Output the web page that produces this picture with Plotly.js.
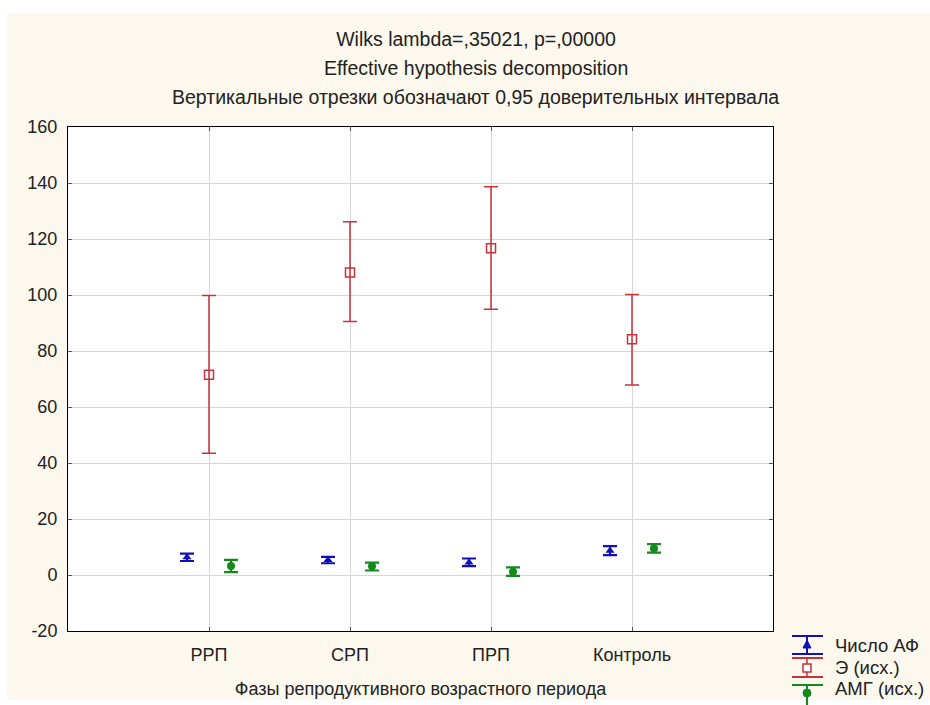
<!DOCTYPE html>
<html>
<head>
<meta charset="utf-8">
<script src="https://cdn.plot.ly/plotly-3.0.1.min.js"></script>
<style>html,body{margin:0;padding:0;background:#fff;}#chart{width:930px;height:705px;}</style>
</head>
<body>
<div id="chart"></div>
<script>
// ---- data ----
const categories = ['РРП', 'СРП', 'ПРП', 'Контроль'];
const seriesNames = ['Число АФ', 'Э (исх.)', 'АМГ (исх.)'];

const afMean  = [6.3, 5.4, 4.5, 8.7];
const afUpper = [7.6, 6.5, 5.9, 10.3];
const afLower = [5.0, 4.2, 3.2, 7.1];

const eMean  = [71.5, 108.0, 116.7, 84.2];
const eUpper = [99.8, 126.2, 138.7, 100.2];
const eLower = [43.5, 90.5, 94.9, 67.9];

const amgMean  = [3.2, 3.1, 1.2, 9.5];
const amgUpper = [5.4, 4.4, 2.7, 11.0];
const amgLower = [1.0, 1.6, -0.3, 8.0];

const yTickVals = [-20, 0, 20, 40, 60, 80, 100, 120, 140, 160];
const yTickText = ['-20', '0', '20', '40', '60', '80', '100', '120', '140', '160'];

const titleLines = [
  'Wilks lambda=,35021, p=,00000',
  'Effective hypothesis decomposition',
  'Вертикальные отрезки обозначают 0,95 доверительных интервала'
];
const xTitle = 'Фазы репродуктивного возрастного периода';

// ---- layout helpers ----
const W = 930, H = 705;
const L = 68, R = 773, T = 127, B = 631;
const FONT = 'Liberation Sans, Arial, sans-serif';
const TFS = 19.5;
const px = x => (x - L) / (R - L);
const py = y => (B - y) / (B - T);

const plus = (u, m) => u.map((v, i) => v - m[i]);
const minus = (m, l) => m.map((v, i) => v - l[i]);

const colors = ['#1010B8', '#C8323A', '#138A1B'];

function trace(name, mean, upper, lower, color, marker, thick) {
  return {
    type: 'scatter', mode: 'markers', name: name,
    x: categories, y: mean,
    marker: marker,
    error_y: { type: 'data', symmetric: false, array: plus(upper, mean), arrayminus: minus(mean, lower),
               color: color, thickness: thick, width: 7 },
    showlegend: false, hoverinfo: 'x+y+name'
  };
}

const data = [
  trace(seriesNames[0], afMean, afUpper, afLower, colors[0],
        { symbol: 'triangle-up', size: 8, color: colors[0], line: { width: 0 } }, 2.2),
  trace(seriesNames[1], eMean, eUpper, eLower, colors[1],
        { symbol: 'square-open', size: 9, color: colors[1], line: { width: 1.5, color: colors[1] } }, 1.5),
  trace(seriesNames[2], amgMean, amgUpper, amgLower, colors[2],
        { symbol: 'circle', size: 8, color: colors[2], line: { width: 0 } }, 2.2)
];

// ---- shapes: background, plot area, custom legend ----
const shapes = [
  { type: 'rect', xref: 'paper', yref: 'paper', layer: 'below',
    x0: px(7), x1: px(935), y0: py(700), y1: py(13), fillcolor: '#FCF8EE', line: { width: 0 } },
  { type: 'rect', xref: 'paper', yref: 'paper', layer: 'below',
    x0: 0, x1: 1, y0: 0, y1: 1, fillcolor: '#FFFFFF', line: { width: 0 } }
];
const annotations = [];

const legendRows = [
  { top: 636, bottom: 654, cy: 645, my: 645 },
  { top: 658, bottom: 677, cy: 667, my: 668 },
  { top: 685, bottom: 709, cy: 688, my: 693 }
];
const gx0 = 792, gx1 = 823, gxc = 807;
legendRows.forEach((r, i) => {
  const c = colors[i];
  shapes.push({ type: 'line', xref: 'paper', yref: 'paper', x0: px(gx0), x1: px(gx1), y0: py(r.top), y1: py(r.top), line: { color: c, width: 2 } });
  shapes.push({ type: 'line', xref: 'paper', yref: 'paper', x0: px(gx0), x1: px(gx1), y0: py(r.bottom), y1: py(r.bottom), line: { color: c, width: 2 } });
  shapes.push({ type: 'line', xref: 'paper', yref: 'paper', x0: px(gxc), x1: px(gxc), y0: py(r.top), y1: py(r.bottom), line: { color: c, width: i === 1 ? 1.5 : 2 } });
  const base = { xref: 'paper', yref: 'paper', xsizemode: 'pixel', ysizemode: 'pixel',
                 xanchor: px(gxc), yanchor: py(r.my) };
  if (i === 0) {
    shapes.push(Object.assign({}, base, { type: 'path', path: 'M -4,-3 L 4,-3 L 0,5 Z', fillcolor: c, line: { color: c, width: 1 } }));
  } else if (i === 1) {
    shapes.push(Object.assign({}, base, { type: 'rect', x0: -4, x1: 4, y0: -4, y1: 4, fillcolor: '#FFFFFF', line: { color: c, width: 1.5 } }));
  } else {
    shapes.push(Object.assign({}, base, { type: 'circle', x0: -4, x1: 4, y0: -4, y1: 4, fillcolor: c, line: { color: c, width: 1 } }));
  }
  annotations.push({ xref: 'paper', yref: 'paper', x: px(833), y: py(r.cy), xanchor: 'left', yanchor: 'middle',
                     text: seriesNames[i], showarrow: false, font: { family: FONT, size: 18.5, color: '#222' } });
});

annotations.push({ xref: 'paper', yref: 'paper', x: px(476), y: py(68), xanchor: 'center', yanchor: 'middle',
                   text: titleLines[1], showarrow: false, font: { family: FONT, size: TFS, color: '#222' } });
annotations.push({ xref: 'paper', yref: 'paper', x: px(476), y: py(97), xanchor: 'center', yanchor: 'middle',
                   text: titleLines[2], showarrow: false, font: { family: FONT, size: TFS, color: '#222' } });

const layout = {
  width: W, height: H,
  margin: { l: L, r: W - R, t: T, b: H - B, pad: 0 },
  paper_bgcolor: '#FFFFFF', plot_bgcolor: 'rgba(0,0,0,0)',
  font: { family: FONT, size: 18, color: '#222' },
  title: { text: titleLines[0], x: 476 / W, xref: 'container', xanchor: 'center',
           y: 1 - 39 / H, yref: 'container', yanchor: 'middle',
           font: { family: FONT, size: TFS, color: '#222' } },
  showlegend: false,
  scattermode: 'group', scattergap: 0.532,
  xaxis: {
    type: 'category', range: [-1, 4], fixedrange: true,
    showgrid: true, gridcolor: '#D6D6D6', gridwidth: 1,
    showline: true, linecolor: '#000', linewidth: 1, mirror: 'ticks',
    ticks: 'inside', ticklen: 4, tickcolor: '#555',
    ticklabelstandoff: 7,
    tickfont: { family: FONT, size: 18, color: '#222' },
    title: { text: xTitle, font: { family: FONT, size: 18, color: '#222' }, standoff: 18 }
  },
  yaxis: {
    range: [-20, 160], tickmode: 'array', tickvals: yTickVals, ticktext: yTickText, fixedrange: true,
    showgrid: true, gridcolor: '#D6D6D6', gridwidth: 1, zeroline: false,
    showline: true, linecolor: '#000', linewidth: 1, mirror: 'ticks',
    ticks: 'inside', ticklen: 4, tickcolor: '#555',
    ticklabelstandoff: 6,
    tickfont: { family: FONT, size: 18, color: '#222' }
  },
  shapes: shapes,
  annotations: annotations
};

Plotly.newPlot('chart', data, layout, { displayModeBar: false, staticPlot: true });
</script>
</body>
</html>
